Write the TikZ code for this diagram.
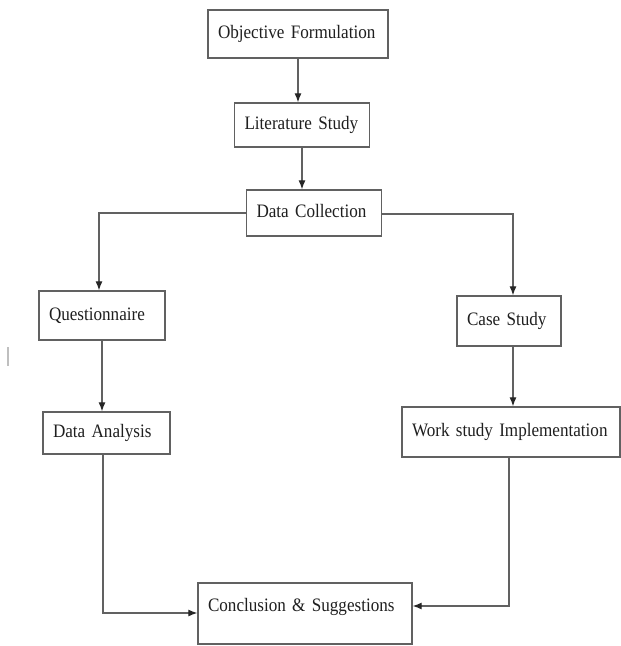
\documentclass[tikz,border=0pt]{standalone}
\usepackage{fontspec}
\setmainfont[FakeStretch=0.9, WordSpace=0.75]{Liberation Serif}
\usepackage{tikz}
\usetikzlibrary{arrows.meta}
\newcommand{\traitcol}{black!62}
\newcommand{\textecol}{black!88}
\tikzset{
  etape/.style={draw=\traitcol, line width=1.3pt, text=\textecol, align=left,
    inner xsep=10pt, text height=13pt, text depth=4pt,
    font=\fontsize{19}{22}\selectfont},
  fleche/.style={draw=\traitcol, line width=1.2pt, -{Latex[length=9pt,width=7pt,color=black!85]}}
}

\begin{document}
\begin{tikzpicture}[x=1pt, y=-1pt]

        \useasboundingbox (0, 0) rectangle (621, 646);

        \node[etape, text width=160pt, minimum height=48pt] (obj) at (298, 34) {Objective Formulation};
        \node[etape, text width=115pt, minimum height=44pt] (lit) at (302, 125) {Literature Study};
        \node[etape, text width=115pt, minimum height=46pt] (coll) at (314, 213) {Data Collection};

        \node[etape, text width=106pt, minimum height=49pt] (quest) at (102, 315.5) {Questionnaire};
        \node[etape, text width=107pt, minimum height=42pt] (ana) at (106.5, 433) {Data Analysis};

        \node[etape, text width=84pt, minimum height=50pt] (case) at (509, 321) {Case Study};
        \node[etape, text width=198pt, minimum height=50pt] (work) at (511, 432) {Work study Implementation};

        \node[etape, text width=194pt, text height=22pt, text depth=27pt, inner ysep=6pt] (concl) at (305, 613.5) {Conclusion \& Suggestions};

        % points de passage
        \coordinate (gauche) at (99, 213);
        \coordinate (droite) at (513, 214);
        \coordinate (basg) at (103, 613);
        \coordinate (basd) at (509, 606);

        % fleches
        \draw[fleche] (obj.south) -- (obj.south |- lit.north);
        \draw[fleche] (lit.south) -- (lit.south |- coll.north);
        \draw[fleche] (coll.west) -- (gauche) -- (gauche |- quest.north);
        \draw[fleche] (coll.east |- droite) -- (droite) -- (droite |- case.north);
        \draw[fleche] (quest.south) -- (quest.south |- ana.north);
        \draw[fleche] (droite |- case.south) -- (droite |- work.north);
        \draw[fleche] (ana.south -| basg) -- (basg) -- (basg -| concl.west);
        \draw[fleche] (work.south -| basd) -- (basd) -- (basd -| concl.east);

        % petite marque
        \draw[draw=black!25, line width=1.5pt] (8, 347) -- (8, 366);

  \end{tikzpicture}
\end{document}
